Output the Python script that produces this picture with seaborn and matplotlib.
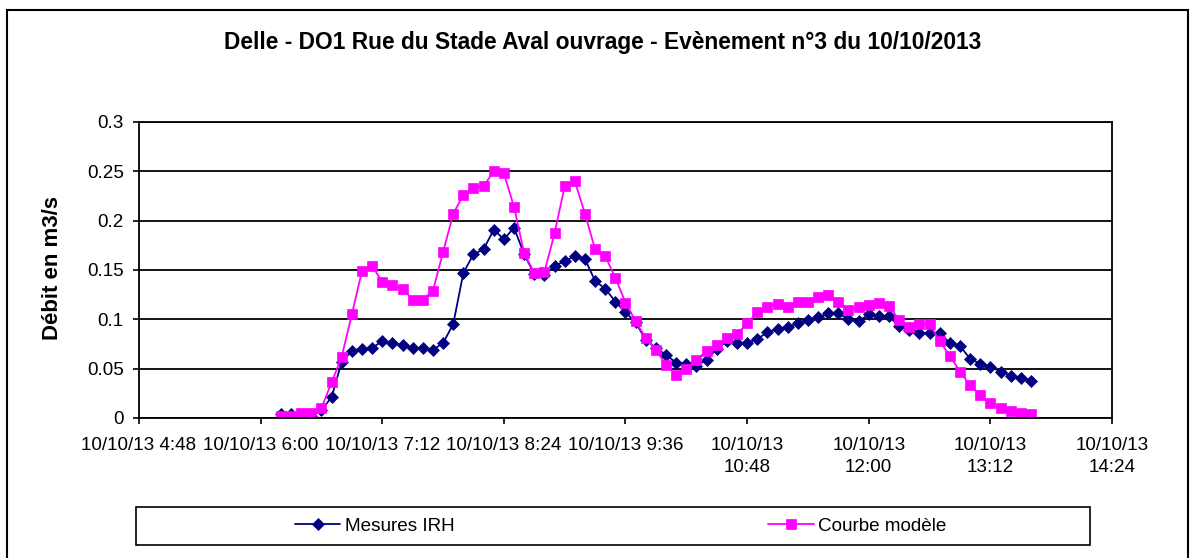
import numpy as np
import pandas as pd
import seaborn as sns
import matplotlib.pyplot as plt
from matplotlib.patches import Rectangle

# data (one value every 6 min, from 6:12 to 13:36)
start = "2013-10-10 06:12"
step = "6min"
mesures_irh = [0.004, 0.004, 0.002, 0.002, 0.008, 0.021, 0.057, 0.068, 0.070, 0.071,
               0.078, 0.076, 0.074, 0.071, 0.071, 0.069, 0.076, 0.095, 0.147, 0.166,
               0.171, 0.191, 0.181, 0.193, 0.166, 0.146, 0.145, 0.154, 0.159, 0.164,
               0.161, 0.139, 0.131, 0.118, 0.107, 0.097, 0.079, 0.071, 0.064, 0.056,
               0.055, 0.053, 0.059, 0.070, 0.078, 0.076, 0.076, 0.080, 0.087, 0.090,
               0.092, 0.096, 0.099, 0.102, 0.106, 0.106, 0.100, 0.098, 0.105, 0.103,
               0.103, 0.093, 0.089, 0.086, 0.086, 0.086, 0.076, 0.073, 0.060, 0.055,
               0.052, 0.047, 0.043, 0.041, 0.038]
courbe_modele = [0.002, 0.002, 0.005, 0.005, 0.010, 0.036, 0.062, 0.105, 0.149, 0.154,
                 0.138, 0.135, 0.131, 0.120, 0.120, 0.129, 0.168, 0.207, 0.226, 0.233,
                 0.235, 0.250, 0.248, 0.214, 0.167, 0.147, 0.148, 0.187, 0.235, 0.240,
                 0.207, 0.171, 0.164, 0.142, 0.117, 0.098, 0.081, 0.069, 0.054, 0.044,
                 0.050, 0.059, 0.068, 0.074, 0.081, 0.085, 0.096, 0.107, 0.112, 0.116,
                 0.112, 0.118, 0.118, 0.123, 0.125, 0.118, 0.109, 0.112, 0.115, 0.117,
                 0.114, 0.099, 0.092, 0.095, 0.095, 0.078, 0.063, 0.047, 0.033, 0.023,
                 0.015, 0.010, 0.007, 0.005, 0.004]
series_names = ["Mesures IRH", "Courbe modèle"]

xticks = pd.date_range("2013-10-10 04:48", periods=9, freq="72min")
xtick_labels = ["10/10/13 4:48", "10/10/13 6:00", "10/10/13 7:12", "10/10/13 8:24",
                "10/10/13 9:36", "10/10/13\n10:48", "10/10/13\n12:00",
                "10/10/13\n13:12", "10/10/13\n14:24"]
yticks = [0, 0.05, 0.1, 0.15, 0.2, 0.25, 0.3]
ytick_labels = ["0", "0.05", "0.1", "0.15", "0.2", "0.25", "0.3"]

title = "Delle - DO1 Rue du Stade Aval ouvrage - Evènement n°3 du 10/10/2013"
ylabel = "Débit en m3/s"

sns.set_theme(style="white")
plt.rcParams["font.family"] = ["Liberation Sans", "DejaVu Sans"]
plt.rcParams.update({"text.color": "black", "axes.labelcolor": "black",
                     "xtick.color": "black", "ytick.color": "black"})

W, H = 1194, 558
fig = plt.figure(figsize=(W / 100, H / 100), dpi=100)
ax = fig.add_axes([139 / W, 1 - 418 / H, (1112 - 139) / W, (418 - 122) / H])

times = pd.date_range(start, periods=len(mesures_irh), freq=step)

navy = "#000080"
pink = "#FF00FF"
sns.lineplot(x=times, y=mesures_irh, ax=ax, color=navy, linewidth=1.3,
             marker="D", markersize=6, markeredgecolor=navy, markeredgewidth=0.5,
             label=series_names[0])
sns.lineplot(x=times, y=courbe_modele, ax=ax, color=pink, linewidth=1.3,
             marker="s", markersize=7, markeredgecolor=pink, markeredgewidth=0.5,
             label=series_names[1])

ax.set_xlim(xticks[0], xticks[-1])
ax.set_ylim(0, 0.3)
ax.set_xticks(xticks)
ax.set_xticklabels(xtick_labels, fontsize=13.6, linespacing=1.35)
ax.set_yticks(yticks)
ax.set_yticklabels(ytick_labels, fontsize=13.6)
ax.set_xlabel("")
ax.set_ylabel("")
ax.grid(axis="y", color="black", linewidth=1.3)
ax.grid(axis="x", visible=False)
for sp in ax.spines.values():
    sp.set_color("black")
    sp.set_linewidth(1.3)
ax.tick_params(axis="both", direction="out", length=4, width=1.2, color="black",
               bottom=True, left=True)
ax.tick_params(axis="x", pad=10)
ax.tick_params(axis="y", pad=7)

# legend, spread like the Excel one
handles, labels = ax.get_legend_handles_labels()
ax.legend(handles, labels, loc="center left", bbox_to_anchor=(295 / W, 1 - 526 / H),
          bbox_transform=fig.transFigure, ncol=2, frameon=False, fontsize=13.6,
          handlelength=2.4, handletextpad=0.25, columnspacing=16.6,
          borderpad=0, borderaxespad=0)
fig.patches.append(Rectangle((136 / W, 1 - 545 / H), (1090 - 136) / W, 38 / H,
                             transform=fig.transFigure, fill=False,
                             edgecolor="black", linewidth=1.2))

# chart border
fig.patches.append(Rectangle((7 / W, -0.02), (1188 - 7) / W, 1 - 10 / H + 0.02,
                             transform=fig.transFigure, fill=False,
                             edgecolor="black", linewidth=1.5))

fig.text(603 / W, 1 - 42 / H, title, ha="center", va="center",
         fontsize=16.4, fontweight="bold")
fig.text(52 / W, 1 - 268 / H, ylabel, ha="center", va="center", rotation=90,
         fontsize=16, fontweight="bold")

fig.savefig("out.png", dpi=100)
